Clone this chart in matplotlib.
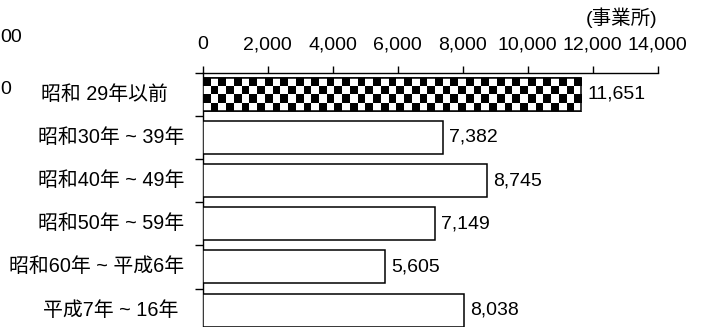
import numpy as np
import matplotlib
matplotlib.use("Agg")
import matplotlib.pyplot as plt
from matplotlib.ticker import FuncFormatter, FixedLocator
import matplotlib.transforms as mtransforms

plt.rcParams['font.family'] = ['Liberation Sans', 'Noto Sans CJK JP', 'DejaVu Sans']

# ---- data ----
categories = ["昭和 29年以前", "昭和30年 ~ 39年", "昭和40年 ~ 49年",
              "昭和50年 ~ 59年", "昭和60年 ~ 平成6年", "平成7年 ~ 16年"]
values = [11651, 7382, 8745, 7149, 5605, 8038]
x_ticks = [0, 2000, 4000, 6000, 8000, 10000, 12000, 14000]
unit_label = "(事業所)"

# ---- style ----
W, H = 702, 327
DPI = 100
label_extra_offsets_px = [16.5, 0, 0, 0, 0, 6]
fs = 14

fig = plt.figure(figsize=(W / DPI, H / DPI), dpi=DPI)
left_px, right_px, top_px, spacing_px = 202.7, 657.5, 72.5, 43.2
n = len(categories)
bottom_px = top_px + spacing_px * n
ax = fig.add_axes([left_px / W, 1 - bottom_px / H,
                   (right_px - left_px) / W, (bottom_px - top_px) / H])

ypos = np.arange(n)
bar_h = 0.76
bars = ax.barh(ypos, values, height=bar_h, facecolor='white',
               edgecolor='black', linewidth=1.1, zorder=3)

ax.set_xlim(x_ticks[0], x_ticks[-1])
ax.set_ylim(n - 0.5, -0.5)

# checkerboard fill for the first bar
b0 = bars[0]
cell_px = 7.75
cell_data = cell_px * (x_ticks[-1] - x_ticks[0]) / (right_px - left_px)
ncols = int(round(values[0] / cell_data))
nrows = 4
ii, jj = np.indices((nrows, ncols))
checker = ((ii + jj + 1) % 2).astype(float)
im = ax.imshow(checker, cmap='gray_r', vmin=0, vmax=1, interpolation='nearest',
               extent=(0, values[0], ypos[0] + bar_h / 2, ypos[0] - bar_h / 2),
               aspect='auto', zorder=3.5)
im.set_clip_path(b0)
ax.barh([ypos[0]], [values[0]], height=bar_h, facecolor='none',
        edgecolor='black', linewidth=1.1, zorder=4)

# x axis on top
ax.xaxis.tick_top()
ax.xaxis.set_major_locator(FixedLocator(x_ticks))
ax.xaxis.set_major_formatter(FuncFormatter(lambda v, p: f"{int(v):,}"))
ax.tick_params(axis='x', direction='out', length=5, width=1.0, pad=9,
               labelsize=fs, top=True, bottom=False)

# y ticks at category boundaries
ax.yaxis.set_major_locator(FixedLocator(np.arange(n) - 0.5))
ax.yaxis.set_major_formatter(FuncFormatter(lambda v, p: ""))
ax.tick_params(axis='y', direction='out', length=6, width=1.0, left=True)

for s in ['right', 'bottom']:
    ax.spines[s].set_visible(False)
for s in ['top', 'left']:
    ax.spines[s].set_linewidth(1.0)

# category labels
for i, (cat, extra) in enumerate(zip(categories, label_extra_offsets_px)):
    off = mtransforms.offset_copy(ax.get_yaxis_transform(), fig=fig,
                                  x=-(18.7 + extra), y=0, units='dots')
    ax.text(0, ypos[i], cat, transform=off, ha='right', va='center',
            fontsize=fs + 0.3)

# value labels
for i, v in enumerate(values):
    ax.annotate(f"{v:,}", xy=(v, ypos[i]), xytext=(4.5, 0),
                textcoords='offset points', ha='left', va='center', fontsize=fs)

# unit label
fig.text(right_px / W, 1 - 18 / H, unit_label, ha='right', va='center', fontsize=fs)

# fragments of a neighbouring chart at the left edge
fig.text(0.5 / W, 1 - 37 / H, "00", ha='left', va='center', fontsize=fs)
fig.text(0.5 / W, 1 - 90 / H, "0", ha='left', va='center', fontsize=fs)

fig.savefig("out.png", dpi=DPI)
